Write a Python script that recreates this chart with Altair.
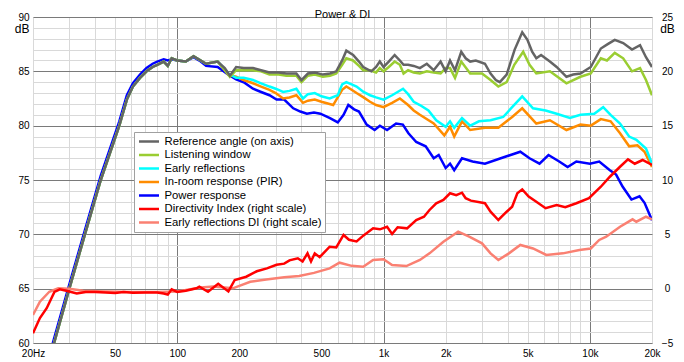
import altair as alt
import pandas as pd

TITLE = "Power & DI"
FONT = "Liberation Sans"

NAMES = ["Reference angle (on axis)", "Listening window", "Early reflections",
         "In-room response (PIR)", "Power response",
         "Directivity Index (right scale)", "Early reflections DI (right scale)"]
COLORS = ["#646464", "#9acd32", "#00ffff", "#ff8c00", "#0000ff", "#ff0000", "#fa8072"]

# grid / tick values
X_GRID = [20, 30, 40, 50, 60, 70, 80, 90, 100, 200, 300, 400, 500, 600, 700, 800, 900,
          1000, 2000, 3000, 4000, 5000, 6000, 7000, 8000, 9000, 10000, 20000]
X_MAJOR = [100, 1000, 10000]
X_TICKS = [20, 50, 100, 200, 500, 1000, 2000, 5000, 10000, 20000]
X_LABELS = ["20Hz", "50", "100", "200", "500", "1k", "2k", "5k", "10k", "20k"]
Y_LEFT_GRID = list(range(60, 91))
Y_RIGHT_TICKS = [-5, 0, 5, 10, 15, 20, 25]

# shared low-frequency part (on-axis, LW, ER, PIR)
RISE_F = [20, 22, 25.3, 30, 35.7, 42.6, 52.4, 57, 61, 66, 71, 76, 80, 86, 90, 94, 100, 110, 120, 130, 138, 157]
RISE_DB = [53.0, 55.9, 60.0, 65.0, 70.0, 75.0, 80.0, 82.4, 83.6, 84.4, 85.0, 85.4, 85.6, 85.9, 85.5, 86.2, 86.0, 85.9, 86.4, 86.0, 85.7, 85.9]

REF_F = [170, 180, 193, 210, 233, 255, 280, 310, 338, 378, 400, 430, 464, 508, 550, 590, 630, 660, 712, 760,
         797, 872, 920, 959, 1000, 1060, 1132, 1200, 1250, 1315, 1400, 1500, 1620, 1750, 1890, 2000, 2100, 2220, 2380, 2500,
         2630, 2800, 3100, 3300, 3500, 3660, 3950, 4320, 4700, 4980, 5250, 5500, 5800, 6400, 6900, 7700, 8300, 9000, 10100, 11300,
         12200, 13200, 14500, 16000, 17500, 18700, 20000]
REF_DB = [85.3, 84.6, 85.4, 85.3, 85.3, 85.1, 84.9, 84.9, 84.8, 84.8, 84.2, 84.8, 84.9, 84.7, 84.8, 85.0, 86.0, 86.9, 86.5, 85.9,
          85.4, 85.0, 85.4, 85.9, 85.4, 85.9, 86.5, 86.0, 85.6, 85.6, 85.5, 85.3, 85.7, 85.1, 85.9, 85.0, 86.0, 85.1, 86.8, 86.2,
          85.9, 86.0, 85.7, 84.8, 84.2, 84.0, 84.7, 87.0, 88.6, 87.9, 86.8, 86.2, 86.5, 85.9, 85.4, 84.5, 84.7, 84.8, 85.4, 87.1,
          87.5, 87.9, 87.6, 87.0, 87.4, 86.3, 85.4]

LW_F = [170, 180, 193, 210, 233, 255, 280, 310, 338, 378, 400, 430, 464, 508, 550, 590, 630, 660, 712, 760,
        797, 860, 920, 959, 1000, 1060, 1132, 1200, 1250, 1315, 1400, 1500, 1620, 1750, 1890, 2000, 2100, 2220, 2380, 2630,
        3000, 3300, 3600, 3950, 4300, 4750, 5100, 5500, 6400, 7700, 9000, 10100, 11300, 12100, 13200, 14500, 16000, 17500, 18700, 20000]
LW_DB = [85.1, 84.5, 85.1, 85.1, 85.1, 85.0, 84.7, 84.7, 84.6, 84.6, 84.0, 84.6, 84.7, 84.5, 84.6, 84.8, 85.6, 86.2, 86.0, 85.5,
         85.1, 85.1, 84.9, 85.3, 85.0, 85.4, 85.9, 85.6, 84.8, 85.1, 84.9, 84.8, 85.0, 84.9, 84.8, 85.3, 85.3, 84.4, 85.9, 84.8,
         84.8, 84.2, 83.6, 84.0, 85.6, 86.8, 85.6, 84.8, 85.0, 83.9, 84.5, 84.8, 86.2, 86.0, 86.7, 86.2, 85.0, 85.3, 84.2, 82.8]

ER_F = [170, 177, 193, 210, 233, 255, 280, 300, 326, 350, 378, 407, 430, 464, 500, 548, 600, 630, 660, 700,
        740, 800, 860, 920, 1000, 1100, 1243, 1315, 1400, 1500, 1650, 1800, 2000, 2100, 2200, 2400, 2630, 2900, 3300, 3800,
        4200, 4700, 5300, 6100, 6900, 8000, 9000, 10500, 11600, 12600, 14000, 15500, 16800, 18700, 20000]
ER_DB = [85.2, 84.8, 84.4, 84.4, 84.2, 83.9, 83.6, 83.4, 83.1, 83.2, 83.4, 82.5, 82.9, 83.0, 82.7, 82.5, 82.8, 83.8, 84.0, 83.8,
         83.6, 83.1, 82.8, 82.6, 82.4, 82.8, 83.4, 82.9, 82.2, 81.9, 81.4, 80.5, 79.9, 80.4, 79.8, 80.7, 80.0, 80.4, 80.5, 80.8,
         81.7, 82.7, 81.6, 81.4, 81.1, 80.7, 81.0, 81.1, 81.7, 81.0, 80.2, 79.0, 78.7, 77.9, 76.5]

PIR_F = [170, 177, 193, 210, 233, 255, 280, 300, 326, 350, 378, 407, 430, 464, 500, 570, 630, 660, 700, 740,
         800, 860, 920, 1000, 1100, 1200, 1315, 1400, 1500, 1750, 1970, 2100, 2200, 2400, 2630, 3100, 3600, 4200, 4700, 5500,
         6400, 7700, 9000, 10100, 11300, 12600, 14000, 15500, 17000, 18400, 20000]
PIR_DB = [85.1, 84.7, 84.5, 84.2, 83.9, 83.6, 83.3, 83.0, 82.5, 82.6, 82.8, 82.1, 82.3, 82.4, 82.2, 81.9, 83.3, 83.6, 83.3, 83.0,
          82.6, 82.2, 81.9, 81.7, 82.1, 82.5, 81.9, 81.4, 81.0, 80.2, 79.1, 79.9, 79.0, 80.4, 79.6, 79.8, 79.8, 80.8, 81.6, 80.2,
          80.5, 79.6, 80.1, 80.0, 80.6, 80.4, 79.3, 78.1, 78.2, 77.6, 76.2]

PWR_F = [20, 22, 25.3, 30, 35.7, 42.6, 52.4, 57, 61, 66, 71, 76, 80, 86, 90, 94, 100, 110, 120, 130,
         138, 157, 177, 193, 210, 233, 255, 280, 303, 330, 365, 395, 425, 460, 494, 550, 600, 640, 675, 720,
         760, 828, 905, 960, 1040, 1150, 1240, 1320, 1440, 1600, 1750, 1850, 2000, 2100, 2200, 2400, 2700, 3100, 3700, 4600,
         5100, 5700, 6300, 7100, 7800, 8600, 10000, 11100, 12500, 13400, 14400, 15900, 17400, 18400, 20000]
PWR_DB = [53.5, 56.3, 60.4, 65.4, 70.4, 75.4, 80.4, 82.8, 83.9, 84.7, 85.3, 85.7, 85.9, 86.1, 86.0, 86.1, 86.0, 85.9, 86.3, 85.9,
          85.5, 85.4, 84.7, 84.25, 84.0, 83.4, 83.1, 82.8, 82.4, 82.4, 81.6, 81.3, 81.1, 81.2, 81.1, 80.7, 80.3, 81.0, 81.9, 81.5,
          81.3, 80.1, 79.6, 80.0, 79.6, 80.2, 80.1, 79.3, 78.5, 78.1, 77.0, 77.3, 76.1, 76.5, 75.9, 77.0, 76.7, 76.5, 77.0, 77.6,
          77.0, 76.5, 77.3, 76.7, 76.2, 76.7, 76.5, 76.7, 75.9, 75.5, 74.4, 73.2, 73.5, 72.9, 71.3]

DI_F = [20, 21.6, 23.3, 25.4, 27, 29, 32.6, 36, 40, 45, 50, 55, 61, 70, 80, 86, 90, 94, 100,
        110, 124, 128, 141, 158, 177, 190, 216, 243, 272, 303, 330, 350, 384, 405, 428, 445, 464, 490, 520,
        548, 590, 640, 680, 740, 800, 890, 960, 1040, 1100, 1170, 1300, 1440, 1570, 1670, 1800, 1950, 2100, 2250, 2400,
        2500, 2650, 3100, 3300, 3600, 3950, 4200, 4450, 4700, 5050, 5500, 6100, 6900, 7600, 8600, 9900, 11300, 12500, 14000, 15300,
        16500, 18000, 20000]
DI = [-4.1, -2.7, -1.8, -0.3, -0.06, -0.2, -0.45, -0.3, -0.3, -0.35, -0.4, -0.3, -0.37, -0.35, -0.35, -0.45, -0.55, -0.06, -0.3,
      -0.2, 0.03, 0.18, -0.28, 0.45, -0.25, 0.8, 1.1, 1.6, 1.87, 2.2, 2.3, 2.6, 2.8, 2.5, 3.25, 2.5, 3.25, 2.9, 3.4,
      3.86, 3.8, 4.94, 4.5, 4.35, 4.9, 5.55, 5.46, 5.7, 5.03, 5.65, 5.55, 6.32, 6.62, 7.24, 7.86, 8.16, 8.78, 8.6, 8.83,
      8.32, 8.1, 7.86, 7.08, 6.32, 7.08, 7.54, 8.78, 9.14, 8.47, 8.0, 7.4, 7.7, 7.49, 7.86, 8.32, 9.38, 10.3, 11.22, 11.9,
      11.5, 11.84, 11.4]

ERDI_F = [20, 21.6, 24, 26.5, 30, 35, 45, 60, 80, 100, 130, 150, 186, 226, 270, 330, 390, 460, 548, 612,
          700, 797, 890, 1000, 1100, 1290, 1500, 1670, 1950, 2300, 2600, 3000, 3300, 3600, 4050, 4600, 5300, 6150, 7400, 8900,
          10100, 11100, 12000, 14000, 16100, 16800, 18700, 20000]
ERDI = [-2.42, -1.2, -0.28, 0.03, 0.0, -0.2, -0.25, -0.3, -0.3, -0.25, 0.1, 0.2, 0.03, 0.64, 0.85, 1.05, 1.17, 1.45, 1.87, 2.39,
        2.1, 2.02, 2.64, 2.70, 2.18, 2.08, 2.64, 3.25, 4.32, 5.24, 4.78, 4.17, 3.25, 2.64, 3.25, 4.02, 3.7, 3.1, 3.25, 3.56,
        3.7, 4.48, 4.78, 5.70, 6.38, 6.16, 6.62, 6.38]


def frame(name, f, v):
    return pd.DataFrame({"f": f, "v": v, "series": name})


spl_data = {
    NAMES[0]: frame(NAMES[0], RISE_F + REF_F, RISE_DB + REF_DB),
    NAMES[1]: frame(NAMES[1], RISE_F + LW_F, RISE_DB + LW_DB),
    NAMES[2]: frame(NAMES[2], RISE_F + ER_F, RISE_DB + ER_DB),
    NAMES[3]: frame(NAMES[3], RISE_F + PIR_F, RISE_DB + PIR_DB),
    NAMES[4]: frame(NAMES[4], PWR_F, PWR_DB),
}
di_data = {
    NAMES[5]: frame(NAMES[5], DI_F, DI),
    NAMES[6]: frame(NAMES[6], ERDI_F, ERDI),
}

x_label_expr = "".join(f"datum.value == {v} ? '{l}' : " for v, l in zip(X_TICKS, X_LABELS)) + "''"
x_major_test = " || ".join(f"datum.value == {v}" for v in X_MAJOR)

MAJOR = "#7a7a7a"
MINOR = "#d9d9d9"
AX_FS = 12

x_enc = alt.X(
    "f:Q",
    title=None,
    scale=alt.Scale(type="log", domain=[20, 20000], nice=False),
    axis=alt.Axis(
        values=X_GRID, labelExpr=x_label_expr, grid=True,
        gridColor=alt.condition(x_major_test, alt.value(MAJOR), alt.value(MINOR)),
        ticks=False, tickSize=0, domain=False, labelOverlap=False, labelFlush=False,
        labelPadding=5, labelBound=False,
    ),
)

y_left = alt.Y(
    "v:Q",
    scale=alt.Scale(domain=[60, 90], nice=False, zero=False),
    axis=alt.Axis(
        values=Y_LEFT_GRID, grid=True,
        gridColor=alt.condition("datum.value % 5 === 0", alt.value(MAJOR), alt.value(MINOR)),
        labelExpr="datum.value % 5 === 0 ? datum.label : ''",
        ticks=False, tickSize=0, domain=False, labelOverlap=False, labelPadding=4,
        title="dB", titleAngle=0, titleAlign="right", titleBaseline="middle",
        titleX=-4, titleY=11, titleFontWeight="normal", titleFontSize=AX_FS,
    ),
)

y_right = alt.Y(
    "v:Q",
    scale=alt.Scale(domain=[-5, 25], nice=False, zero=False),
    axis=alt.Axis(
        orient="right", values=Y_RIGHT_TICKS, grid=False,
        ticks=False, tickSize=0, domain=False, labelOverlap=False,
        labelAlign="center", labelPadding=15,
        title="dB", titleAngle=0, titleAlign="center", titleBaseline="middle",
        titleX=15, titleY=11, titleFontWeight="normal", titleFontSize=AX_FS,
    ),
)

color_enc = alt.Color(
    "series:N",
    scale=alt.Scale(domain=NAMES, range=COLORS),
    sort=NAMES,
    legend=alt.Legend(
        title=None, orient="none", legendX=101, legendY=115,
        fillColor="white", strokeColor="#a0a0a0", padding=3.5,
        symbolType="stroke", symbolSize=400, symbolStrokeWidth=2.5,
        clipHeight=12, rowPadding=1.5, labelOffset=4, labelLimit=300,
        labelFontSize=11.3, labelFont=FONT, labelColor="black",
    ),
)


def line(df, y_enc):
    return alt.Chart(df).mark_line(strokeWidth=2.5, clip=True).encode(
        x=x_enc, y=y_enc, color=color_enc
    )


# draw order: power at bottom, on-axis on top
spl_layer = alt.layer(*[line(spl_data[n], y_left) for n in [NAMES[4], NAMES[3], NAMES[2], NAMES[1], NAMES[0]]])
di_layer = alt.layer(*[line(di_data[n], y_right) for n in [NAMES[6], NAMES[5]]])

chart = alt.layer(spl_layer, di_layer).resolve_scale(y="independent").properties(
    width=619,
    height=326,
    autosize=alt.AutoSizeParams(type="none"),
    padding={"left": 25, "top": 9, "right": 24, "bottom": 18},
    title=alt.Title(TITLE, fontSize=11, fontWeight="normal", font=FONT, color="black",
                    anchor="middle", frame="group", offset=-8),
).configure_view(
    stroke=MAJOR, strokeWidth=1
).configure_axis(
    labelFont=FONT, labelFontSize=AX_FS, labelColor="black",
    titleFont=FONT, titleFontSize=AX_FS, titleColor="black", titleFontWeight="normal",
).configure(background="white")

chart.save("out.html", embed_options={"renderer": "svg", "actions": False})
